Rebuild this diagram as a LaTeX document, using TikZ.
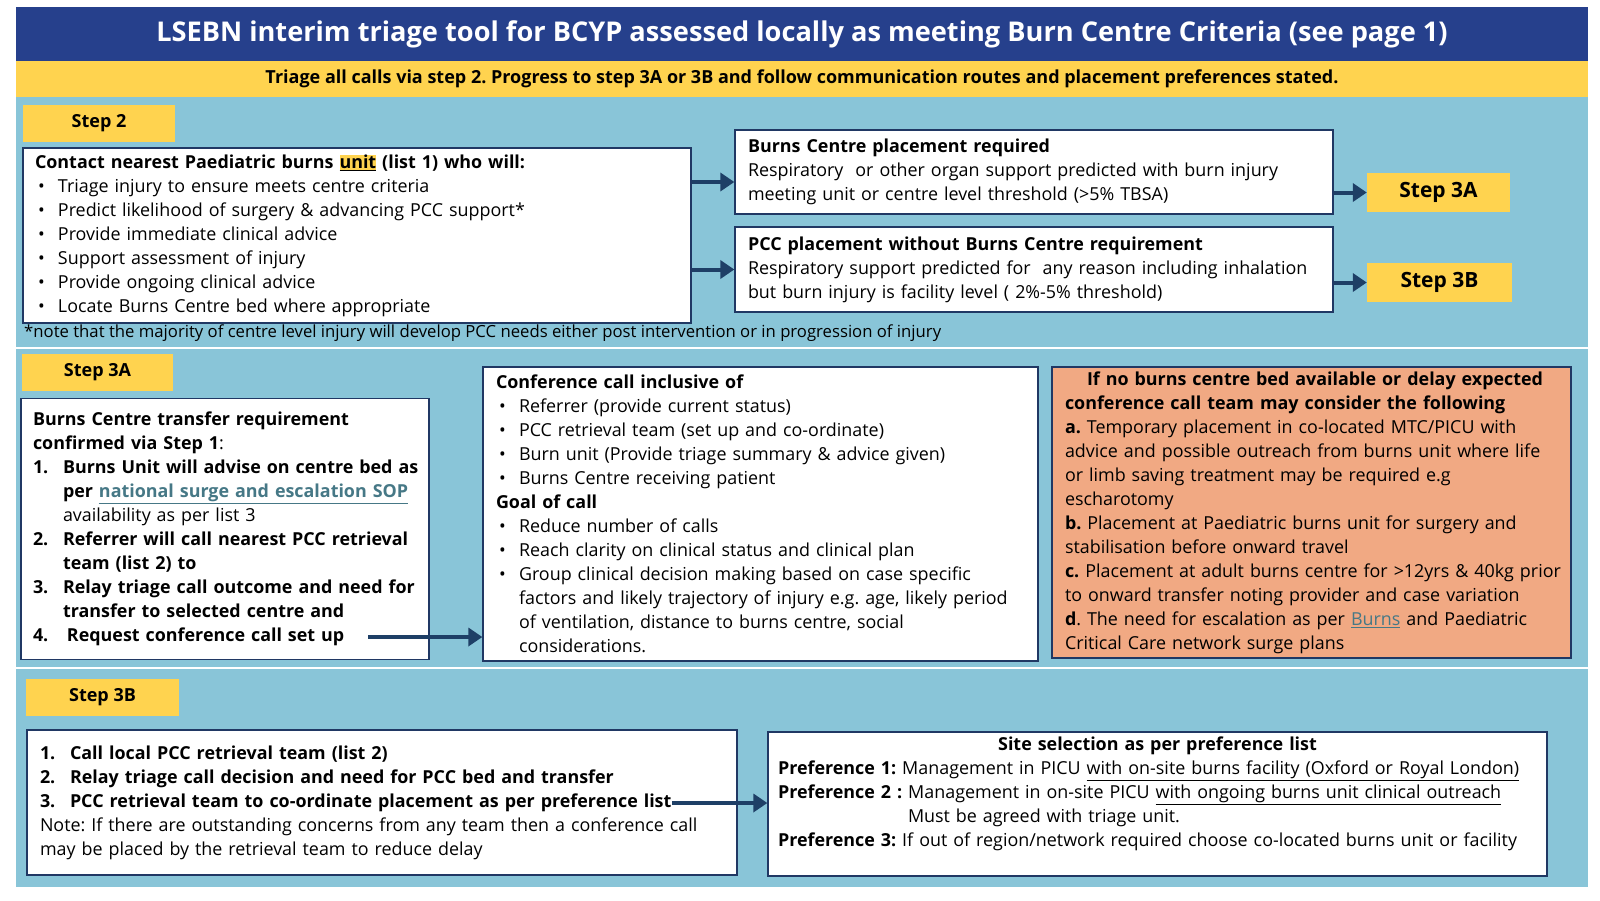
\documentclass[tikz,border=0pt]{standalone}
\usepackage{fontspec}
\setmainfont{Open Sans}
\usetikzlibrary{arrows.meta,calc,positioning}
\frenchspacing

\definecolor{headnavy}{HTML}{26408C}
\definecolor{tagyellow}{HTML}{FFD34F}
\definecolor{panelblue}{HTML}{89C5D8}
\definecolor{boxnavy}{HTML}{203864}
\definecolor{arrownavy}{HTML}{1E3F66}
\definecolor{orangefill}{HTML}{F1A983}
\definecolor{linkteal}{HTML}{467886}

\newcommand{\headfont}{\fontsize{27.2}{32}\selectfont\bfseries}
\newcommand{\bandfont}{\fontsize{18}{22}\selectfont\bfseries}
\newcommand{\tagfont}{\fontsize{18}{22}\selectfont\bfseries}
\newcommand{\bodyfont}{\fontsize{17.9}{24}\selectfont}
\newcommand{\notefont}{\fontsize{16.7}{20}\selectfont}
\newcommand{\weblink}[1]{\textcolor{linkteal}{\underline{#1}}}
\newcommand{\bullitem}{\hspace*{3pt}\makebox[20pt][l]{\textbullet}}
\newcommand{\contline}{\hspace*{23pt}}
\newcommand{\itemno}[1]{\makebox[30pt][l]{#1}}

\begin{document}
\begin{tikzpicture}[
		x=1pt, y=-1pt,
		txtbox/.style={draw=boxnavy, line width=1.3pt, fill=white, align=left, inner ysep=0pt, font=\bodyfont},
		steptag/.style={fill=tagyellow, font=\tagfont, inner sep=0pt},
		flow/.style={-{Triangle[length=14pt,width=18pt]}, line width=4pt, draw=arrownavy}
		]

		\useasboundingbox (0,0) rectangle (1600,900);

		% --- Bandeaux ---
		\fill[panelblue] (16,97) rectangle (1588,347);
		\fill[panelblue] (16,349) rectangle (1588,667);
		\fill[panelblue] (16,669) rectangle (1588,887);

		\node[fill=headnavy, text=white, font=\headfont, minimum width=1572pt, minimum height=54pt, inner sep=0pt] (title) at (802,34)
			{LSEBN interim triage tool for BCYP assessed locally as meeting Burn Centre Criteria (see page 1)};
		\node[fill=tagyellow, font=\bandfont, minimum width=1572pt, minimum height=36pt, inner sep=0pt] (band) at (802,79)
			{Triage all calls via step 2. Progress to step 3A or 3B and follow communication routes and placement preferences stated.};

		% --- Step 2 ---
		\node[steptag, minimum width=152pt, minimum height=37pt] (tag2) at (99,123.5) {Step 2};
		\node[txtbox, text width=644pt, inner xsep=12pt, minimum height=175pt] (s2) at (357,235.5) {%
			\textbf{Contact nearest Paediatric burns {\setlength{\fboxsep}{0pt}\colorbox{tagyellow}{\underline{unit}}} (list 1) who will:}\\
			\bullitem Triage injury to ensure meets centre criteria\\
			\bullitem Predict likelihood of surgery \& advancing PCC support*\\
			\bullitem Provide immediate clinical advice\\
			\bullitem Support assessment of injury\\
			\bullitem Provide ongoing clinical advice\\
			\bullitem Locate Burns Centre bed where appropriate};
		\node[font=\notefont, anchor=west, inner sep=0pt] (note) at (24,333)
			{*note that the majority of centre level injury will develop PCC needs either post intervention or in progression of injury};

		\node[txtbox, text width=572pt, inner xsep=13pt, minimum height=84pt] (b1) at (1034,172) {%
			\textbf{Burns Centre placement required}\\
			Respiratory \ or other organ support predicted with burn injury\\
			meeting unit or centre level threshold (>5\% TBSA)};
		\node[txtbox, text width=572pt, inner xsep=13pt, minimum height=85pt] (b2) at (1034,269.5) {%
			\textbf{PCC placement without Burns Centre requirement}\\
			Respiratory support predicted for \ any reason including inhalation\\
			but burn injury is facility level ( 2\%-5\% threshold)};

		\node[steptag, font=\fontsize{21}{24}\selectfont\bfseries, minimum width=143pt, minimum height=39pt] (tagA) at (1438.5,192.5) {Step 3A};
		\node[steptag, font=\fontsize{21}{24}\selectfont\bfseries, minimum width=145pt, minimum height=39pt] (tagB) at (1439.5,282.5) {Step 3B};

		\draw[flow] ($(s2.east |- b1.west)+(0,10)$) -- ($(b1.west)+(0,10)$);
		\draw[flow] (s2.east |- b2.west) -- (b2.west);
		\draw[flow] (b1.east |- tagA.west) -- (tagA.west);
		\draw[flow] (b2.east |- tagB.west) -- (tagB.west);

		% --- Step 3A ---
		\node[steptag, minimum width=151pt, minimum height=37pt] (tag3a) at (97.5,372.5) {Step 3A};
		\node[txtbox, text width=384pt, inner xsep=12pt, minimum height=261pt] (s3a) at (225,529) {%
			\textbf{Burns Centre transfer requirement}\\
			\textbf{confirmed via Step 1}:\\
			\mbox{\textbf{\itemno{1.}Burns Unit will advise on centre bed as}}\\
			\hspace*{30pt}\textbf{per \weblink{national surge and escalation SOP}}\\
			\hspace*{30pt}availability as per list 3\\
			\textbf{\itemno{2.}Referrer will call nearest PCC retrieval}\\
			\hspace*{30pt}\textbf{team (list 2) to}\\
			\mbox{\textbf{\itemno{3.}Relay triage call outcome and need for}}\\
			\hspace*{30pt}\textbf{transfer to selected centre and}\\
			\textbf{\makebox[34pt][l]{4.}Request conference call set up}};
		\coordinate (req) at (368,637);

		\node[txtbox, text width=529pt, inner xsep=13pt, minimum height=294pt] (conf) at (760.5,514) {%
			\textbf{Conference call inclusive of}\\
			\bullitem Referrer (provide current status)\\
			\bullitem PCC retrieval team (set up and co-ordinate)\\
			\bullitem Burn unit (Provide triage summary \& advice given)\\
			\bullitem Burns Centre receiving patient\\
			\textbf{Goal of call}\\
			\bullitem Reduce number of calls\\
			\bullitem Reach clarity on clinical status and clinical plan\\
			\bullitem Group clinical decision making based on case specific\\
			\contline factors and likely trajectory of injury e.g. age, likely period\\
			\contline of ventilation, distance to burns centre, social\\
			\contline considerations.};
		\draw[flow] (req) -- (conf.west |- req);

		\node[txtbox, fill=orangefill, text width=493pt, inner xsep=13pt, minimum height=291pt] (delay) at (1311.5,512.5) {%
			\hspace*{22pt}\textbf{If no burns centre bed available or delay expected}\\
			\textbf{conference call team may consider the following}\\
			\textbf{a.} Temporary placement in co-located MTC/PICU with\\
			\mbox{advice and possible outreach from burns unit where life}\\
			or limb saving treatment may be required e.g\\
			escharotomy\\
			\textbf{b.} Placement at Paediatric burns unit for surgery and\\
			stabilisation before onward travel\\
			\mbox{\textbf{c.} Placement at adult burns centre for >12yrs \& 40kg prior}\\
			to onward transfer noting provider and case variation\\
			\textbf{d}. The need for escalation as per \weblink{Burns} and Paediatric\\
			Critical Care network surge plans};

		% --- Step 3B ---
		\node[steptag, minimum width=153pt, minimum height=37pt] (tag3b) at (102.5,697.5) {Step 3B};
		\node[txtbox, text width=684pt, inner xsep=13pt, minimum height=145pt] (s3b) at (382,802.5) {%
			\textbf{\itemno{1.}Call local PCC retrieval team (list 2)}\\
			\textbf{\itemno{2.}Relay triage call decision and need for PCC bed and transfer}\\
			\textbf{\itemno{3.}PCC retrieval team to co-ordinate placement as per preference list}\\
			Note: If there are outstanding concerns from any team then a conference call\\
			may be placed by the retrieval team to reduce delay};
		\coordinate (pref) at (672,803);

		\node[txtbox, text width=759pt, inner xsep=10pt, minimum height=144pt] (site) at (1157.5,804) {%
			\makebox[759pt][c]{\textbf{Site selection as per preference list}}\\
			\textbf{Preference 1:} Management in PICU \underline{with on-site burns facility (Oxford or Royal London)}\\
			\textbf{Preference 2 :} Management in on-site PICU \underline{with ongoing burns unit clinical outreach}\\
			\hspace*{130pt}Must be agreed with triage unit.\\
			\textbf{Preference 3:} If out of region/network required choose co-located burns unit or facility\\
			\mbox{}};
		\draw[flow] (pref) -- (site.west |- pref);

	\end{tikzpicture}
\end{document}
